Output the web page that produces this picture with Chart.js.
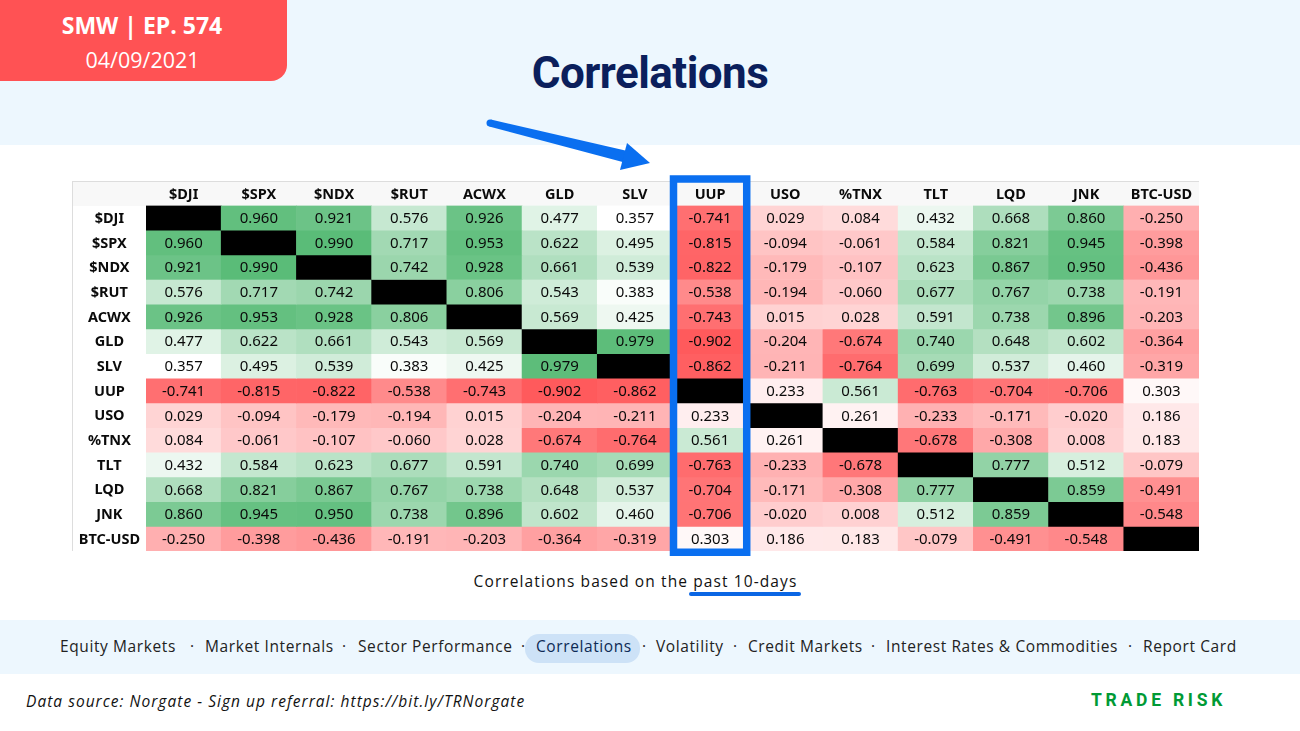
<!DOCTYPE html>
<html><head><meta charset="utf-8">
<script src="https://cdn.jsdelivr.net/npm/chart.js@4"></script>
<style>
html,body{margin:0;padding:0;background:#fff;width:1300px;height:731px;overflow:hidden;font-family:"Open Sans",sans-serif}
.abs{position:absolute;white-space:nowrap}
#top{left:0;top:0;width:1300px;height:145px;background:#edf7fe}
#badge{left:0;top:0;width:287px;height:81px;background:#ff5254;border-bottom-right-radius:16px;color:#fff;text-align:center}
#ep{left:0;width:284px;top:9px;font-size:23px;font-weight:700;text-align:center;color:#fff;position:absolute}
#dt{left:0;width:285px;top:45px;font-size:21.5px;text-align:center;color:#fff;position:absolute}
#title{left:0;width:1300px;text-align:center;top:47px;font:700 44px Roboto,sans-serif;color:#0b1f5c;letter-spacing:-0.55px}
#hdr{left:72px;top:181px;width:1127px;height:24.5px;background:#f8f8f8;border-top:1px solid #ddd;box-sizing:border-box}
#lft{left:72px;top:181px;width:1px;height:370px;background:#ddd}
canvas{position:absolute;left:0;top:0}
#sub{left:0;width:1271px;text-align:center;top:570px;font-size:15.5px;letter-spacing:1.1px;color:#111}
#ul{left:689px;top:592px;width:112px;height:3.5px;background:#0a66e4;border-radius:2px}
#nav{left:0;top:620px;width:1300px;height:54px;background:#edf7fe}
#pill{left:525px;top:634px;width:115px;height:29px;background:#cde2f7;border-radius:14px}
.n{top:635px;font-size:15.5px;letter-spacing:.6px;color:#222}
.d{top:635px;font-size:15.5px;color:#222}
#src{left:26px;top:690px;font-size:15.5px;font-style:italic;letter-spacing:1.03px;color:#111}
#tr{left:1091px;top:690px;font:700 17.5px Roboto,sans-serif;letter-spacing:3.75px;color:#009a35}
</style></head><body>
<div class="abs" id="top"></div>
<div class="abs" id="badge"><div id="ep">SMW | EP. 574</div><div id="dt">04/09/2021</div></div>
<div class="abs" id="title">Correlations</div>
<div class="abs" id="hdr"></div><div class="abs" id="lft"></div>
<div class="abs" id="sub">Correlations based on the past 10-days</div>
<div class="abs" id="ul"></div>
<div class="abs" id="nav"></div><div class="abs" id="pill"></div>
<div class="abs n" style="left:60px">Equity Markets</div>
<div class="abs d" style="left:190px">·</div>
<div class="abs n" style="left:205px">Market Internals</div>
<div class="abs d" style="left:342px">·</div>
<div class="abs n" style="left:358px">Sector Performance</div>
<div class="abs d" style="left:521px">·</div>
<div class="abs n" style="left:536px;color:#0c2a55">Correlations</div>
<div class="abs d" style="left:642px">·</div>
<div class="abs n" style="left:656px">Volatility</div>
<div class="abs d" style="left:733px">·</div>
<div class="abs n" style="left:748px">Credit Markets</div>
<div class="abs d" style="left:871px">·</div>
<div class="abs n" style="left:886px">Interest Rates &amp; Commodities</div>
<div class="abs d" style="left:1128px">·</div>
<div class="abs n" style="left:1143px">Report Card</div>
<div class="abs" id="src">Data source: Norgate - Sign up referral: https://bit.ly/TRNorgate</div>
<div class="abs" id="tr">TRADE RISK</div>
<svg class="abs" style="left:0;top:0" width="1300" height="731">
<polygon points="490.8,119.6 489.2,126.4 623.6,162.3 626.4,150.7" fill="#0a6ff0"/>
<circle cx="490" cy="123" r="3.5" fill="#0a6ff0"/>
<polygon points="650,163 620,170 627,143" fill="#0a6ff0"/>
</svg>
<canvas id="c" width="1300" height="731"></canvas>
<script>
const tickers = ["$DJI","$SPX","$NDX","$RUT","ACWX","GLD","SLV","UUP","USO","%TNX","TLT","LQD","JNK","BTC-USD"];
const rowDJI  = [null,0.960,0.921,0.576,0.926,0.477,0.357,-0.741,0.029,0.084,0.432,0.668,0.860,-0.250];
const rowSPX  = [0.960,null,0.990,0.717,0.953,0.622,0.495,-0.815,-0.094,-0.061,0.584,0.821,0.945,-0.398];
const rowNDX  = [0.921,0.990,null,0.742,0.928,0.661,0.539,-0.822,-0.179,-0.107,0.623,0.867,0.950,-0.436];
const rowRUT  = [0.576,0.717,0.742,null,0.806,0.543,0.383,-0.538,-0.194,-0.060,0.677,0.767,0.738,-0.191];
const rowACWX = [0.926,0.953,0.928,0.806,null,0.569,0.425,-0.743,0.015,0.028,0.591,0.738,0.896,-0.203];
const rowGLD  = [0.477,0.622,0.661,0.543,0.569,null,0.979,-0.902,-0.204,-0.674,0.740,0.648,0.602,-0.364];
const rowSLV  = [0.357,0.495,0.539,0.383,0.425,0.979,null,-0.862,-0.211,-0.764,0.699,0.537,0.460,-0.319];
const rowUUP  = [-0.741,-0.815,-0.822,-0.538,-0.743,-0.902,-0.862,null,0.233,0.561,-0.763,-0.704,-0.706,0.303];
const rowUSO  = [0.029,-0.094,-0.179,-0.194,0.015,-0.204,-0.211,0.233,null,0.261,-0.233,-0.171,-0.020,0.186];
const rowTNX  = [0.084,-0.061,-0.107,-0.060,0.028,-0.674,-0.764,0.561,0.261,null,-0.678,-0.308,0.008,0.183];
const rowTLT  = [0.432,0.584,0.623,0.677,0.591,0.740,0.699,-0.763,-0.233,-0.678,null,0.777,0.512,-0.079];
const rowLQD  = [0.668,0.821,0.867,0.767,0.738,0.648,0.537,-0.704,-0.171,-0.308,0.777,null,0.859,-0.491];
const rowJNK  = [0.860,0.945,0.950,0.738,0.896,0.602,0.460,-0.706,-0.020,0.008,0.512,0.859,null,-0.548];
const rowBTC  = [-0.250,-0.398,-0.436,-0.191,-0.203,-0.364,-0.319,0.303,0.186,0.183,-0.079,-0.491,-0.548,null];
const rows = [rowDJI,rowSPX,rowNDX,rowRUT,rowACWX,rowGLD,rowSLV,rowUUP,rowUSO,rowTNX,rowTLT,rowLQD,rowJNK,rowBTC];
const highlighted = "UUP";

function cellColor(v){
  if(v===null) return "#000";
  const mid=0.36, lo=-0.902, hi=0.99;
  const mix=(a,t)=>a.map(c=>Math.round(255+(c-255)*t));
  const t = v<mid ? (mid-v)/(mid-lo) : (v-mid)/(hi-mid);
  const c = v<mid ? mix([255,90,92],Math.min(1,t)) : mix([90,188,120],Math.min(1,t));
  return `rgb(${c.join(",")})`;
}
const valuePlugin={id:"values",afterDatasetsDraw(ch){
  const g=ch.ctx;g.save();g.font='15px "Noto Sans"';g.fillStyle="#0a0a0a";g.textAlign="center";g.textBaseline="middle";
  ch.data.datasets.forEach((d,r)=>{ch.getDatasetMeta(r).data.forEach((b,c)=>{
    const v=rows[r][c]; if(v===null) return;
    g.fillText(v.toFixed(3),b.x,(b.y+b.base)/2+1);
  });});
  const xs=ch.scales.x, ys=ch.scales.y, i=tickers.indexOf(highlighted), w=xs.getPixelForValue(1)-xs.getPixelForValue(0);
  const cx=xs.getPixelForValue(i);
  g.strokeStyle="#0a6ff0";g.lineWidth=7.5;
  g.strokeRect(cx-w/2+1,ys.getPixelForValue(0)-26.5,w-2,ys.getPixelForValue(14)-ys.getPixelForValue(0)+27.75);
  g.restore();
}};
new Chart(document.getElementById("c"),{
  type:"bar",
  data:{labels:tickers,datasets:rows.map((row,r)=>({
    label:tickers[r],
    data:row.map(()=>[r,r+1]),
    backgroundColor:row.map(cellColor),
    borderWidth:0,
    barPercentage:1.0,categoryPercentage:1.0,grouped:false
  }))},
  options:{
    responsive:false,animation:false,
    layout:{padding:{left:72,right:101,top:181,bottom:180}},
    plugins:{legend:{display:false},tooltip:{enabled:false},title:{display:false}},
    scales:{
      x:{position:"top",grid:{display:false,drawTicks:false},border:{display:false},
        afterFit(s){s.height=24.5;},
        ticks:{color:"#0a0a0a",font:{family:"Noto Sans",size:14.5,weight:"bold"},padding:2,maxRotation:0,autoSkip:false}},
      y:{reverse:true,min:0,max:14,grid:{display:false,drawTicks:false},border:{display:false},
        afterBuildTicks(s){s.ticks=tickers.map((t,i)=>({value:i+0.5}));},
        afterFit(s){s.width=74;},
        ticks:{color:"#0a0a0a",font:{family:"Noto Sans",size:14.5,weight:"bold"},padding:6,autoSkip:false,crossAlign:"center",labelOffset:1,
          callback:(v)=>tickers[Math.floor(v)]}}
    }
  },
  plugins:[valuePlugin]
});
</script>
</body></html>
